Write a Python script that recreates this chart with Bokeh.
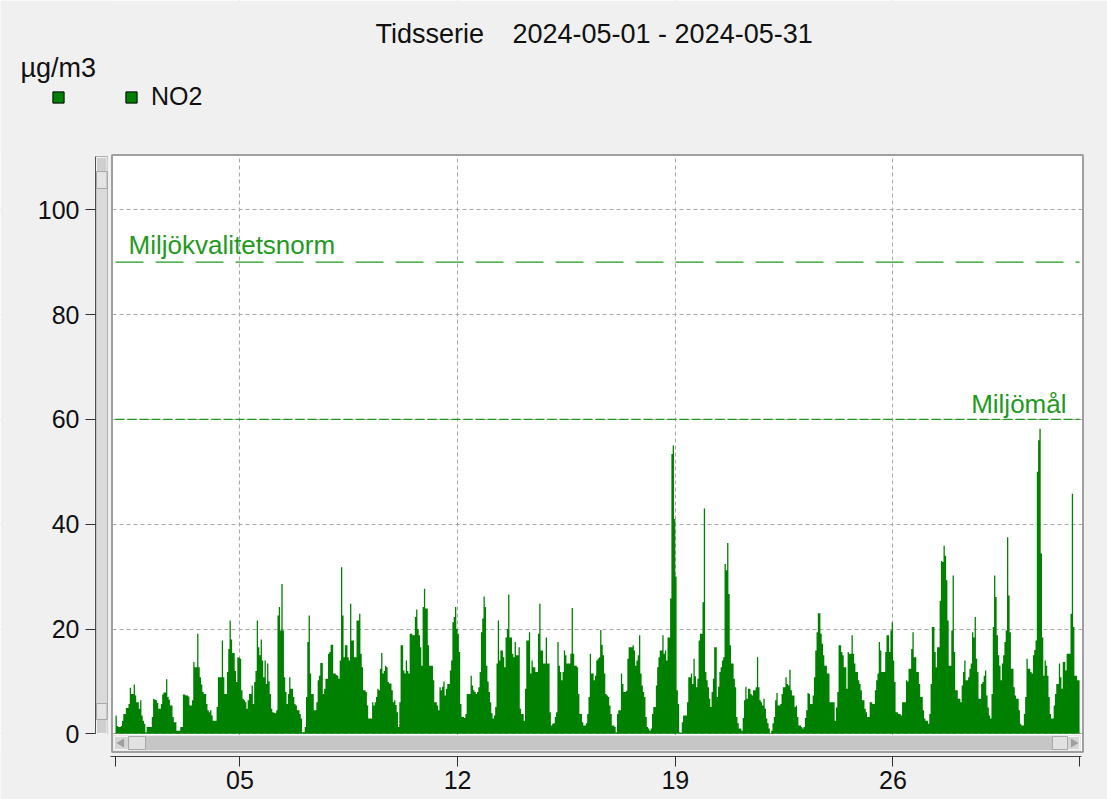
import numpy as np
from bokeh.plotting import figure
from bokeh.models import (ColumnDataSource, Range1d, FixedTicker, Label, Legend, LegendItem)
from bokeh.core.properties import value
from bokeh.embed import file_html
from bokeh.resources import INLINE

# ---------------- data ----------------
title_main = "Tidsserie"
title_period = "2024-05-01 - 2024-05-31"
unit_label = "µg/m3"
series_name = "NO2"

# hourly NO2 (µg/m3), 24 values per day
may01 = [3.5,1.5,1.3,1.3,1.5,2.5,3.8,3.8,4.9,4.9,5.7,8.8,7.6,7.6,9.4,7.3,6.0,6.0,4.8,6.4,3.5,2.5,1.9,0.3]
may02 = [1.3,1.3,1.3,1.3,3.2,6.7,6.5,6.4,5.9,4.8,4.8,5.7,7.5,7.9,7.9,10.4,7.0,6.5,5.4,5.4,3.2,2.2,2.2,0.6]
may03 = [0.6,0.6,1.3,1.3,7.5,7.5,7.3,7.3,7.1,5.4,5.4,6.4,13.7,12.7,12.7,19.1,12.7,10.8,9.4,8.0,7.6,7.6,5.7,4.5]
may04 = [4.1,4.5,3.5,2.5,2.5,2.5,5.1,10.8,10.8,10.8,17.8,10.8,7.6,7.6,11.8,16.2,21.6,18.0,15.4,15.4,12.0,9.9,14.6,14.5]
may05 = [14.3,8.3,6.7,6.4,6.0,4.8,6.4,7.6,7.6,9.2,5.7,9.9,12.0,21.6,16.5,15.0,18.0,14.0,10.8,14.0,9.5,13.4,10.0,7.6]
may06 = [4.8,4.1,4.0,3.9,4.5,22.6,24.2,19.7,28.6,19.7,10.8,8.0,5.7,7.6,10.8,8.6,8.6,7.0,5.7,5.4,4.5,4.5,3.8,2.9]
may07 = [0.3,0.3,1.3,7.0,17.5,22.6,11.5,7.6,7.6,4.5,4.5,6.0,10.2,11.1,13.5,13.5,7.6,8.6,10.5,10.5,15.3,15.6,17.0,17.0]
may08 = [11.5,11.5,11.2,11.1,10.5,14.0,31.8,22.6,14.6,16.9,16.9,14.6,14.0,24.8,17.8,17.8,14.6,14.6,21.6,21.6,22.9,15.3,12.7,8.3]
may09 = [8.3,8.0,5.4,2.9,2.9,2.9,6.0,5.4,6.0,7.0,8.6,8.3,12.4,15.4,11.5,12.0,13.0,12.7,9.9,9.6,9.6,8.3,6.0,6.4]
may10 = [5.5,4.1,1.3,6.0,16.9,16.9,12.1,11.5,14.0,12.0,11.5,19.1,19.1,18.8,18.8,22.3,23.7,20.0,18.8,16.5,13.0,24.2,27.7,23.9]
may11 = [23.9,16.9,13.0,13.0,13.0,10.2,6.0,6.0,5.4,4.5,8.9,8.3,9.0,10.0,7.3,8.6,9.5,9.5,12.1,14.0,21.3,22.3,24.2,20.0]
may12 = [19.1,15.6,5.7,3.2,3.2,3.0,3.8,7.6,7.6,7.6,11.1,9.2,8.3,8.0,7.6,8.0,8.9,11.8,19.4,22.0,26.2,24.2,13.0,10.0]
may13 = [8.0,6.0,3.9,2.9,3.5,5.1,13.4,21.6,14.0,15.9,15.9,14.6,12.7,18.4,20.0,26.6,18.4,18.4,15.3,14.6,17.5,15.0,15.0,16.5]
may14 = [4.8,3.8,3.8,2.5,8.6,17.8,17.8,19.4,11.5,14.0,12.7,12.7,11.8,11.8,19.1,24.8,15.9,15.9,13.4,13.4,18.4,13.4,13.4,4.1]
may15 = [1.6,1.9,2.0,3.2,4.1,17.5,13.0,11.8,10.2,11.8,15.9,15.0,13.4,13.4,13.4,15.3,24.0,15.3,13.0,13.0,12.7,7.6,3.8,3.8]
may16 = [2.2,1.6,1.6,2.0,3.8,7.0,15.3,11.5,11.5,10.2,11.1,14.0,14.3,14.6,19.8,17.0,15.0,11.5,7.6,7.3,7.0,5.4,3.8,1.6]
may17 = [1.6,1.3,0.3,3.8,4.5,4.5,11.5,9.5,8.0,8.0,8.2,14.3,16.5,16.5,16.5,16.9,15.9,13.0,14.0,15.0,18.8,11.5,9.2,8.0]
may18 = [7.0,3.2,1.3,1.0,0.6,1.0,3.8,5.1,5.1,9.2,12.7,14.6,15.9,15.9,18.8,15.3,15.9,14.0,18.4,18.4,25.8,53.4,55.0,41.0]
may19 = [30.0,8.3,5.7,0.3,0.2,2.2,3.5,3.5,3.5,6.0,10.8,10.8,11.5,9.5,14.3,11.0,8.9,10.5,17.8,19.1,19.1,25.1,43.0,11.8]
may20 = [10.2,8.9,6.7,5.1,8.0,10.5,16.5,16.5,7.0,9.0,11.8,12.7,14.0,14.6,32.4,31.2,36.4,26.7,16.9,13.4,13.4,10.5,8.9,3.2]
may21 = [2.0,1.0,1.0,0.6,3.0,6.4,9.0,6.7,8.6,8.6,7.6,7.3,8.3,8.3,8.9,14.6,8.9,6.4,6.0,5.4,6.7,4.8,2.9,2.0]
may22 = [1.0,0.1,0.6,2.0,3.2,6.4,7.8,5.4,5.4,5.7,7.6,8.9,8.9,10.8,9.5,9.2,12.2,8.3,7.3,7.3,5.1,5.4,3.2,1.6]
may23 = [1.6,1.3,1.0,1.3,3.0,4.5,7.8,7.6,5.7,5.7,7.3,10.8,15.9,19.4,23.0,23.0,19.1,17.2,15.0,13.0,13.0,11.5,11.5,6.0]
may24 = [6.0,6.0,6.0,2.5,5.0,8.0,16.9,16.9,15.6,15.0,12.7,12.7,8.6,15.6,15.3,15.3,18.8,15.3,13.4,11.8,11.8,10.2,9.5,8.3]
may25 = [6.4,6.4,4.8,4.1,3.2,3.2,6.0,6.0,5.7,5.7,8.3,10.2,11.5,17.5,15.9,11.8,11.8,11.8,15.6,18.8,18.8,15.6,19.7,21.3]
may26 = [14.0,9.9,4.1,4.1,3.8,3.8,3.5,6.0,6.0,6.0,10.2,10.0,12.4,12.4,16.2,19.4,14.6,14.6,11.8,11.8,9.5,7.0,7.0,4.5]
may27 = [2.9,2.5,2.5,1.9,3.8,9.5,20.4,20.4,15.6,12.7,16.5,16.5,25.4,33.0,32.8,35.9,34.0,29.3,21.6,13.0,13.0,19.7,30.2,15.6]
may28 = [8.3,8.3,6.7,6.7,6.0,9.2,11.8,14.0,10.2,10.2,10.8,12.4,13.4,19.4,18.4,22.3,14.3,11.8,6.7,6.7,9.5,9.9,11.1,12.1]
may29 = [7.3,5.0,3.5,2.9,7.6,20.4,30.2,26.1,18.8,15.0,13.0,10.2,13.4,15.0,17.5,19.7,37.5,26.4,19.4,12.4,12.4,8.9,7.3,6.7]
may30 = [6.7,4.5,1.9,1.6,1.6,3.8,7.0,14.3,12.4,12.4,11.8,11.5,15.0,16.0,17.8,50.0,56.0,58.2,34.4,18.4,11.1,14.0,13.0,11.1]
may31 = [7.0,3.8,2.9,2.9,5.4,7.6,9.5,9.5,13.4,10.8,8.6,13.7,13.7,12.1,15.3,15.3,15.3,22.9,45.8,20.4,11.1,11.1,10.2,10.2]

days = [may01, may02, may03, may04, may05, may06, may07, may08, may09, may10,
        may11, may12, may13, may14, may15, may16, may17, may18, may19, may20,
        may21, may22, may23, may24, may25, may26, may27, may28, may29, may30, may31]

# x axis: hours since 2024-05-01 00:00
x_tick_hours = [0, 96, 264, 432, 600, 744]
x_tick_labels = ["", "05", "12", "19", "26", ""]
y_ticks = [0, 20, 40, 60, 80, 100]

limit_values = [90, 60]
limit_names = ["Miljökvalitetsnorm", "Miljömål"]

# ---------------- build ----------------
no2 = [v for d in days for v in d]
n_hours = len(no2)
hour_start = np.arange(n_hours + 1)          # step edges (hour boundaries)
no2_step = no2 + [no2[-1]]                    # closing edge of the last hour

# canvas-pixel -> data helpers (layout only)
PX0, PXH = 115.0, 1.2958       # x of May 1 00:00, px per hour
PY0, PYU = 733.3, 5.24         # y of 0 µg/m3, px per unit
def hx(px):
    return (px - PX0) / PXH
def vy(py):
    return (PY0 - py) / PYU

FONT = "Liberation Sans"
FS = "25px"
FS2 = "26px"
FS3 = "27px"
GREEN = "#008000"
LGREEN = "#1f9a1f"
GREYBG = "#f0f0f0"
TXT = "#111111"

W, H = 1107, 799

p = figure(width=W, height=H, output_backend="svg", toolbar_location=None,
           x_range=Range1d(hx(0), hx(W)), y_range=Range1d(vy(H), vy(0)),
           min_border=0, title=None)
p.background_fill_color = "white"
p.border_fill_color = GREYBG
p.outline_line_color = None

# grids
p.ygrid.ticker = FixedTicker(ticks=y_ticks)
p.xgrid.ticker = FixedTicker(ticks=x_tick_hours[1:-1])
for g in (p.xgrid, p.ygrid):
    g.grid_line_color = "#a8a8a8"
    g.grid_line_dash = "4 3"
    g.grid_line_width = 1

# grey areas outside the white plot box
x_lo, x_hi = hx(0), hx(W)
y_lo, y_hi = vy(H), vy(0)
p.quad(left=[x_lo, hx(1083), x_lo, x_lo], right=[hx(111), x_hi, x_hi, x_hi],
       bottom=[y_lo, y_lo, y_lo, vy(153.5)], top=[y_hi, y_hi, vy(752.5), y_hi],
       fill_color=GREYBG, line_color=None)
# plot box border
p.quad(left=hx(111.5), right=hx(1082.5), bottom=vy(751.5), top=vy(154.5),
       fill_color=None, line_color="#a0a0a0", line_width=2)

# hourly bars as one stepped area
src = ColumnDataSource(dict(hour=hour_start, no2=no2_step))
p.varea_step(x="hour", y1=0, y2="no2", step_mode="after", source=src,
             fill_color=GREEN)

# limit lines
p.segment(x0=[0], x1=[n_hours], y0=[limit_values[0]], y1=[limit_values[0]],
          line_color=LGREEN, line_width=1.2, line_dash="28 12")
p.segment(x0=[0], x1=[n_hours], y0=[limit_values[1]], y1=[limit_values[1]],
          line_color=LGREEN, line_width=1.2, line_dash="9 3")
p.add_layout(Label(x=hx(128), y=vy(244), text=limit_names[0],
                   text_color=LGREEN, text_font=FONT, text_font_size=FS2,
                   text_baseline="middle"))
p.add_layout(Label(x=hx(1066), y=vy(403), text=limit_names[1],
                   text_color=LGREEN, text_font=FONT, text_font_size=FS2,
                   text_align="right", text_baseline="middle"))

# horizontal scrollbar (decoration)
p.quad(left=hx(113), right=hx(1080), bottom=vy(750), top=vy(735),
       fill_color="#c6c6c6", line_color="#e8e8e8", line_width=1)
p.quad(left=[hx(114), hx(1067)], right=[hx(128), hx(1079)],
       bottom=[vy(749), vy(749)], top=[vy(736), vy(736)],
       fill_color="#d6d6d6", line_color="#f4f4f4", line_width=1)
p.quad(left=[hx(128), hx(1052)], right=[hx(145), hx(1067)],
       bottom=[vy(749), vy(749)], top=[vy(736), vy(736)],
       fill_color="#e2e2e2", line_color="#a8a8a8", line_width=1)
p.scatter(x=[hx(121), hx(1073)], y=[vy(742.5), vy(742.5)], marker="triangle",
          angle=[np.pi / 2, -np.pi / 2], size=9, fill_color="#a0a0a0", line_color=None)

# vertical scrollbar (decoration)
p.quad(left=hx(95.5), right=hx(107), bottom=vy(733), top=vy(156),
       fill_color="#dadada", line_color="#b0b0b0", line_width=1)
p.quad(left=[hx(96), hx(96)], right=[hx(106.5), hx(106.5)],
       bottom=[vy(171), vy(733)], top=[vy(157), vy(719)],
       fill_color="#cfcfcf", line_color="#f4f4f4", line_width=1)
p.quad(left=[hx(96), hx(96)], right=[hx(106.5), hx(106.5)],
       bottom=[vy(188), vy(719)], top=[vy(171), vy(703)],
       fill_color="#e4e4e4", line_color="#a8a8a8", line_width=1)

# axes (placed inside the full-canvas frame)
yax = p.yaxis[0]
yax.fixed_location = hx(95)
yax.ticker = FixedTicker(ticks=y_ticks)
yax.bounds = (0, vy(156))
yax.major_tick_out = 10
yax.major_tick_in = 0
yax.minor_tick_out = 0
yax.minor_tick_in = 0
yax.major_label_standoff = 6
yax.axis_line_color = "#505050"
yax.major_tick_line_color = "#303030"
yax.major_label_text_font = FONT
yax.major_label_text_font_size = FS
yax.major_label_text_color = TXT

xax = p.xaxis[0]
xax.fixed_location = vy(756)
xax.ticker = FixedTicker(ticks=x_tick_hours)
xax.major_label_overrides = dict(zip(x_tick_hours, x_tick_labels))
xax.bounds = (hx(110), hx(1081))
xax.major_tick_out = 10
xax.major_tick_in = 0
xax.minor_tick_out = 0
xax.minor_tick_in = 0
xax.major_label_standoff = 4
xax.axis_line_color = "#404040"
xax.major_tick_line_color = "#303030"
xax.major_label_text_font = FONT
xax.major_label_text_font_size = FS
xax.major_label_text_color = TXT

# title and unit
p.add_layout(Label(x=hx(375), y=vy(33), text=title_main, text_font=FONT,
                   text_font_size=FS3, text_color=TXT, text_baseline="middle"))
p.add_layout(Label(x=hx(512), y=vy(33), text=title_period, text_font=FONT,
                   text_font_size=FS3, text_color=TXT, text_baseline="middle"))
p.add_layout(Label(x=hx(20), y=vy(67), text=unit_label, text_font=FONT,
                   text_font_size=FS3, text_color=TXT, text_baseline="middle"))

# legend (two green squares, second labelled NO2); glyph-only renderer
sq_src = ColumnDataSource(dict(x=[np.nan], y=[np.nan]))
sq = p.scatter(x="x", y="y", source=sq_src, marker="square", size=11,
               fill_color=GREEN, line_color="black", line_width=1)
legend = Legend(items=[LegendItem(label=value(""), renderers=[sq]),
                       LegendItem(label=value(series_name), renderers=[sq])],
                orientation="horizontal", location=(44, H - 111),
                glyph_width=28, glyph_height=28, label_standoff=6, spacing=19,
                label_width=20, label_height=28, padding=0, margin=0,
                border_line_alpha=0, background_fill_alpha=0,
                label_text_font=FONT, label_text_font_size=FS, label_text_color=TXT)
p.add_layout(legend, "center")

open("out.html", "w").write(file_html(p, INLINE))
